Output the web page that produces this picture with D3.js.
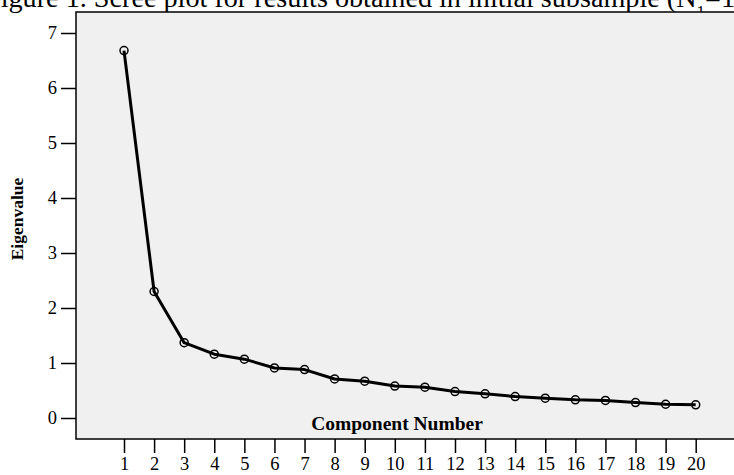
<!DOCTYPE html>
<html>
<head>
<meta charset="utf-8">
<script src="https://cdn.jsdelivr.net/npm/d3@7"></script>
<style>
  html, body { margin: 0; padding: 0; background: #fff; overflow: hidden; }
  text { font-family: "Liberation Serif", "Times New Roman", serif; fill: #000; }
</style>
</head>
<body>
<svg id="chart" width="734" height="475"></svg>
<script>
const COMPONENTS = d3.range(1, 21);
const EIGENVALUES = [6.68, 2.30, 1.37, 1.16, 1.07, 0.91, 0.88, 0.71, 0.67, 0.58,
  0.56, 0.48, 0.44, 0.39, 0.36, 0.33, 0.32, 0.28, 0.25, 0.24];
const Y_TICKS = [0, 1, 2, 3, 4, 5, 6, 7];

const width = 734;
const height = 475;
const plot = { left: 76, top: 12, right: 740, bottom: 439 };

const svg = d3.select("#chart");

// title runs off both page edges in the source figure
svg.append("text")
  .attr("x", -15)
  .attr("y", 7)
  .style("font-size", "28.2px")
  .html('Figure 1. Scree plot for results obtained in initial subsample (N<tspan baseline-shift="sub" font-size="17px">1</tspan>=1');

svg.append("rect")
  .attr("x", plot.left)
  .attr("y", plot.top)
  .attr("width", plot.right - plot.left)
  .attr("height", plot.bottom - plot.top)
  .attr("fill", "#f0f0f0")
  .attr("stroke", "#000")
  .attr("stroke-width", 1.5);

const x = d3.scaleLinear().domain([1, 20]).range([124, 695.7]);
const y = d3.scaleLinear().domain([0, 7]).range([418, 33]);

const yAxis = svg.append("g")
  .attr("transform", `translate(${plot.left},0)`)
  .call(d3.axisLeft(y).tickValues(Y_TICKS).tickFormat(d3.format("d")).tickSize(15).tickPadding(4));
yAxis.select(".domain").remove();
yAxis.selectAll(".tick line").attr("stroke-width", 1.5);
yAxis.selectAll(".tick text").style("font-size", "18.5px").attr("font-family", null);

const xAxis = svg.append("g")
  .attr("transform", `translate(0,${plot.bottom})`)
  .call(d3.axisBottom(x).tickValues(COMPONENTS).tickFormat(d3.format("d")).tickSize(14).tickPadding(4));
xAxis.select(".domain").remove();
xAxis.selectAll(".tick line").attr("stroke-width", 1.5);
xAxis.selectAll(".tick text").style("font-size", "18.5px").attr("font-family", null);

svg.append("text")
  .attr("x", 397)
  .attr("y", 430)
  .attr("text-anchor", "middle")
  .style("font-size", "19.5px")
  .style("font-weight", "bold")
  .text("Component Number");

svg.append("text")
  .attr("transform", "translate(23,219) rotate(-90)")
  .attr("text-anchor", "middle")
  .style("font-size", "17.5px")
  .style("font-weight", "bold")
  .text("Eigenvalue");

const line = d3.line()
  .x((d, i) => x(COMPONENTS[i]))
  .y((d) => y(d));

svg.append("path")
  .datum(EIGENVALUES)
  .attr("d", line)
  .attr("fill", "none")
  .attr("stroke", "#000")
  .attr("stroke-width", 3)
  .attr("stroke-linejoin", "round");

svg.selectAll(".pt")
  .data(EIGENVALUES)
  .enter()
  .append("circle")
  .classed("pt", true)
  .attr("cx", (d, i) => x(COMPONENTS[i]))
  .attr("cy", (d) => y(d))
  .attr("r", 4)
  .attr("fill", "none")
  .attr("stroke", "#000")
  .attr("stroke-width", 1.5);
</script>
</body>
</html>
